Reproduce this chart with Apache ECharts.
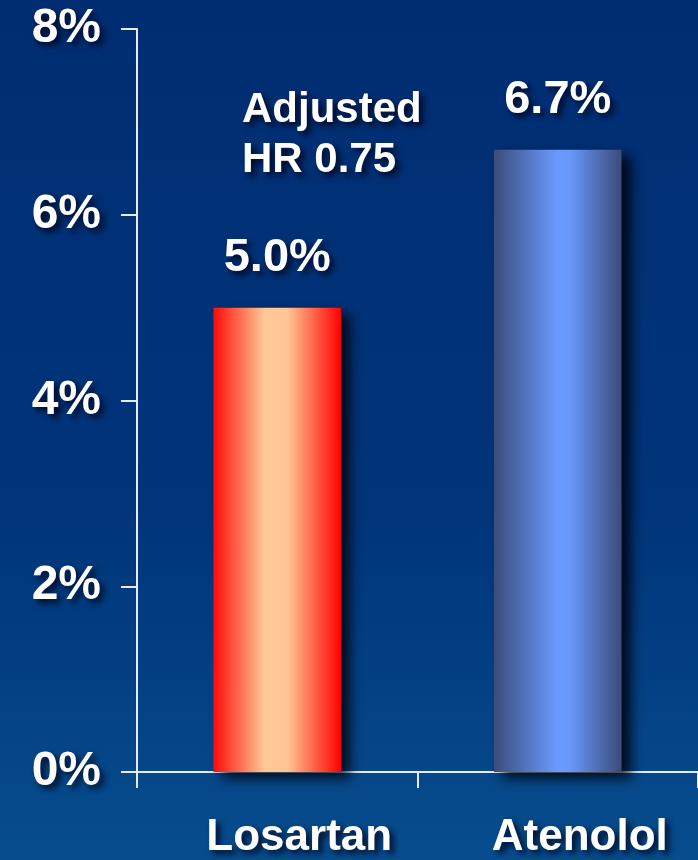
<!DOCTYPE html>
<html>
<head>
<meta charset="utf-8">
<script src="https://cdn.jsdelivr.net/npm/echarts@6/dist/echarts.min.js"></script>
<style>
  html, body { margin: 0; padding: 0; }
  #chart { width: 698px; height: 860px; }
</style>
</head>
<body>
<div id="chart"></div>
<script>
// Event rate by treatment arm
const categories = ['Losartan', 'Atenolol'];
const eventRates = [5.0, 6.7];
const yTicks = [0, 2, 4, 6, 8];
const annotationLines = ['Adjusted', 'HR 0.75'];

const FONT = '"Liberation Sans", Arial, sans-serif';
const shadow = {
  textShadowColor: 'rgba(0,0,20,0.85)',
  textShadowBlur: 6,
  textShadowOffsetX: 4,
  textShadowOffsetY: 4
};

const barFills = [
  new echarts.graphic.LinearGradient(0, 0, 1, 0, [
    { offset: 0, color: '#ff0a0a' },
    { offset: 0.4, color: '#ffc896' },
    { offset: 0.58, color: '#ffc594' },
    { offset: 1, color: '#ff0000' }
  ]),
  new echarts.graphic.LinearGradient(0, 0, 1, 0, [
    { offset: 0, color: '#3b4c7c' },
    { offset: 0.5, color: '#6a9bff' },
    { offset: 0.6, color: '#6897fa' },
    { offset: 1, color: '#3b4b7a' }
  ])
];

const axisColor = '#e6ecf4';

const chart = echarts.init(document.getElementById('chart'));
chart.setOption({
  animation: false,
  backgroundColor: new echarts.graphic.LinearGradient(0, 0, 0, 1, [
    { offset: 0, color: '#002d72' },
    { offset: 0.6, color: '#00357a' },
    { offset: 1, color: '#074d8e' }
  ]),
  grid: { left: 137, right: 0, top: 29, bottom: 86, containLabel: false },
  xAxis: {
    type: 'category',
    data: categories,
    axisLine: { lineStyle: { color: axisColor, width: 2 } },
    axisTick: { show: true, length: 16, lineStyle: { color: axisColor, width: 2 } },
    axisLabel: {
      color: '#ffffff',
      fontFamily: FONT,
      fontWeight: 'bold',
      fontSize: 44,
      margin: 44,
      padding: [0, 0, 0, 44],
      ...shadow
    }
  },
  yAxis: {
    type: 'value',
    min: yTicks[0],
    max: yTicks[yTicks.length - 1],
    interval: yTicks[1] - yTicks[0],
    splitLine: { show: false },
    axisLine: { show: true, lineStyle: { color: axisColor, width: 2 } },
    axisTick: { show: true, inside: false, length: 16, lineStyle: { color: axisColor, width: 2 } },
    axisLabel: {
      color: '#ffffff',
      fontFamily: FONT,
      fontWeight: 'bold',
      fontSize: 48,
      margin: 36,
      formatter: v => v + '%',
      ...shadow
    }
  },
  series: [{
    type: 'bar',
    barWidth: '45.5%',
    data: eventRates.map((v, i) => ({
      value: v,
      itemStyle: {
        color: barFills[i],
        shadowColor: 'rgba(0,0,10,0.85)',
        shadowBlur: 12,
        shadowOffsetX: 9,
        shadowOffsetY: 6
      }
    })),
    label: {
      show: true,
      position: 'top',
      distance: 26,
      color: '#ffffff',
      fontFamily: FONT,
      fontWeight: 'bold',
      fontSize: 47,
      formatter: p => p.value.toFixed(1) + '%',
      ...shadow
    }
  }],
  graphic: [{
    type: 'text',
    left: 242,
    top: 85,
    style: {
      text: annotationLines.join('\n'),
      fill: '#ffffff',
      font: 'bold 42px ' + FONT,
      lineHeight: 50,
      textShadowColor: 'rgba(0,0,20,0.85)',
      textShadowBlur: 6,
      textShadowOffsetX: 4,
      textShadowOffsetY: 4
    }
  }]
});
</script>
</body>
</html>
